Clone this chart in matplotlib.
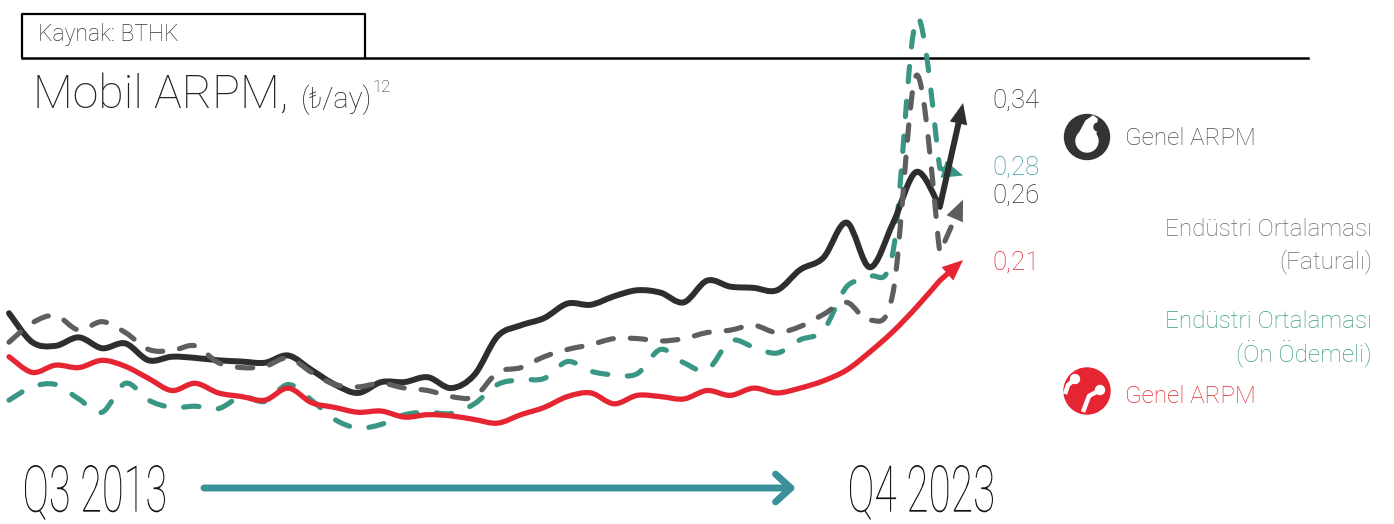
import numpy as np
import matplotlib
matplotlib.use("Agg")
import matplotlib.pyplot as plt
from matplotlib.patches import Circle, PathPatch, Polygon
from matplotlib.path import Path
from matplotlib.textpath import TextPath
from matplotlib.font_manager import FontProperties
from matplotlib.transforms import Affine2D

plt.rcParams['font.family'] = ['Roboto', 'DejaVu Sans']
plt.rcParams['font.weight'] = 'light'

# quarterly series, Q3 2013 .. Q4 2023 (TL / minute)
quarters = np.arange(42)
vodafone = [0.166, 0.142, 0.139, 0.146, 0.137, 0.141, 0.127, 0.130, 0.129, 0.127,
            0.126, 0.125, 0.131, 0.119, 0.107, 0.100, 0.109, 0.109, 0.113, 0.104,
            0.115, 0.147, 0.156, 0.162, 0.174, 0.173, 0.180, 0.185, 0.183, 0.175,
            0.193, 0.188, 0.187, 0.185, 0.202, 0.212, 0.241, 0.204, 0.241, 0.283,
            0.254, 0.340]
turkcell = [0.130, 0.117, 0.123, 0.121, 0.127, 0.122, 0.112, 0.102, 0.108, 0.100,
            0.097, 0.094, 0.104, 0.092, 0.088, 0.084, 0.085, 0.080, 0.082, 0.081,
            0.078, 0.075, 0.082, 0.088, 0.097, 0.100, 0.091, 0.098, 0.097, 0.095,
            0.102, 0.098, 0.104, 0.100, 0.104, 0.110, 0.119, 0.134, 0.151, 0.171,
            0.193, 0.210]
postpaid = [0.142, 0.158, 0.164, 0.152, 0.159, 0.150, 0.136, 0.135, 0.139, 0.125,
            0.121, 0.122, 0.129, 0.117, 0.107, 0.105, 0.108, 0.104, 0.102, 0.097,
            0.097, 0.117, 0.121, 0.130, 0.136, 0.140, 0.145, 0.145, 0.143, 0.145,
            0.150, 0.152, 0.156, 0.150, 0.155, 0.165, 0.175, 0.160, 0.184, 0.363,
            0.216, 0.260]
prepaid = [0.094, 0.105, 0.107, 0.095, 0.084, 0.108, 0.094, 0.088, 0.089, 0.087,
           0.097, 0.093, 0.107, 0.094, 0.078, 0.071, 0.074, 0.082, 0.084, 0.083,
           0.091, 0.107, 0.111, 0.112, 0.126, 0.118, 0.115, 0.116, 0.136, 0.125,
           0.119, 0.143, 0.138, 0.133, 0.144, 0.152, 0.188, 0.196, 0.218, 0.410,
           0.286, 0.280]
end_labels = ['0,34', '0,28', '0,26', '0,21']
start_label = 'Q3 2013'
end_label = 'Q4 2023'

C_BLACK = '#2e2e2e'
C_RED = '#e52531'
C_GREY = '#5e5e60'
C_TEAL = '#3a9684'
C_TEAL_TXT = '#3a97a3'

fig = plt.figure(figsize=(13.94, 5.24), dpi=100)
renderer = fig.canvas.get_renderer()

# decoration layer in pixel coordinates
lay = fig.add_axes([0, 0, 1, 1])
lay.set_xlim(0, 1394)
lay.set_ylim(524, 0)
lay.axis('off')

# chart layer in data coordinates
ax = fig.add_axes([0, 0, 1, 1])
ax.set_xlim(-0.387, 59.52)
ax.set_ylim(-0.0085, 0.4253)
ax.axis('off')
ax.patch.set_alpha(0)

# source box + rule
lay.plot([22, 22, 365, 365], [57, 14, 14, 57], color='black', lw=1.6, zorder=1)
lay.plot([22, 1308], [57.5, 57.5], color='black', lw=1.8, zorder=1)
lay.text(38, 34, 'Kaynak: BTHK', fontsize=16.5, color='#333333', va='center')

# title, pieces placed one after another
t1 = lay.text(33, 108, 'Mobil ARPM,', fontsize=33.5, color='#222222', va='baseline')
x_next = t1.get_window_extent(renderer).x1 + 12
t2 = fig.text(x_next / 1394, 1 - 108 / 524, '(₺/ay)', fontsize=21, color='#222222',
              va='baseline')
x_next = t2.get_window_extent(renderer).x1 + 1
fig.text(x_next / 1394, 1 - 92 / 524, '12', fontsize=12, color='#222222', va='baseline')


def smooth_path(x, y):
    # Catmull-Rom through the points, drawn as cubic Bezier pieces
    pts = np.column_stack([x, y])
    n = len(pts)
    verts = [pts[0]]
    codes = [Path.MOVETO]
    for i in range(n - 1):
        p_prev = pts[max(i - 1, 0)]
        p0 = pts[i]
        p1 = pts[i + 1]
        p_next = pts[min(i + 2, n - 1)]
        verts += [p0 + (p1 - p_prev) / 6, p1 - (p_next - p0) / 6, p1]
        codes += [Path.CURVE4] * 3
    return verts, codes


def draw_series(vals, color, lw, dashes, z):
    x = np.asarray(quarters, dtype=float)
    y = np.asarray(vals, dtype=float)
    tr = ax.transData
    p0 = tr.transform((x[-2], y[-2]))
    p1 = tr.transform((x[-1], y[-1]))
    d = p1 - p0
    stop = tr.inverted().transform(p1 - d / np.hypot(*d) * 14)
    verts, codes = smooth_path(x[:-1], y[:-1])
    verts.append(stop)
    codes.append(Path.LINETO)
    ls = (0, dashes) if dashes else '-'
    patch = PathPatch(Path(verts, codes), fill=False, edgecolor=color, lw=lw,
                      linestyle=ls, capstyle='round', joinstyle='round', zorder=z)
    ax.add_patch(patch)
    ax.annotate('', xy=(x[-1], y[-1]), xytext=stop,
                arrowprops=dict(arrowstyle='-|>,head_length=0.75,head_width=0.32',
                                lw=0, color=color, shrinkA=0, shrinkB=0,
                                mutation_scale=20), zorder=z)


draw_series(prepaid, C_TEAL, 3.7, (3.0, 3.8), 3)
draw_series(turkcell, C_RED, 3.8, None, 4)
draw_series(vodafone, C_BLACK, 4.3, None, 5)
draw_series(postpaid, C_GREY, 3.7, (3.0, 3.3), 6)

# end values
label_colors = [C_BLACK, C_TEAL_TXT, C_BLACK, C_RED]
label_vals = [vodafone[-1], prepaid[-1], postpaid[-1], turkcell[-1]]
label_nudge = [2, 8, 4, -3]
for txt, v, c, n in zip(end_labels, label_vals, label_colors, label_nudge):
    ax.annotate(txt, xy=(quarters[-1], v), xytext=(29, n), textcoords='offset pixels',
                fontsize=18.5, color=c, va='center', ha='left')

# legend: vodafone
lay.add_patch(Circle((1087, 137), 22.5, color='#333333', zorder=5))
lay.add_patch(Circle((1087, 141), 11, color='white', zorder=6))
lay.add_patch(Polygon([(1079, 134), (1086, 121), (1093, 116), (1097, 119),
                       (1096, 133)], closed=True, color='white', zorder=6))
lay.add_patch(Circle((1098, 127), 4, color='#333333', zorder=7))
lay.text(1125, 138, 'Genel ARPM', fontsize=17.5, color='#4a4b55', va='center')

lay.text(1372, 229, 'Endüstri Ortalaması', fontsize=17.5, color='#6a6a6a',
         va='center', ha='right')
lay.text(1372, 262, '(Faturalı)', fontsize=17.5, color='#6a6a6a', va='center', ha='right')
lay.text(1372, 322, 'Endüstri Ortalaması', fontsize=17.5, color='#3a9a84',
         va='center', ha='right')
lay.text(1372, 354, '(Ön Ödemeli)', fontsize=17.5, color='#3a9a84', va='center', ha='right')

# legend: turkcell
lay.add_patch(Circle((1087, 391), 23, color='#e52531', zorder=5))
lay.plot([1065, 1068, 1075], [394, 385, 379], color='white', lw=3.2, zorder=6,
         solid_capstyle='butt')
lay.plot([1100, 1089, 1083], [390, 396, 412], color='white', lw=3.2, zorder=6,
         solid_capstyle='butt')
lay.add_patch(Circle((1075, 379), 4.5, color='white', zorder=7))
lay.add_patch(Circle((1100, 390), 4.5, color='white', zorder=7))
lay.text(1125, 396, 'Genel ARPM', fontsize=17.5, color='#e52531', va='center')


def condensed(txt, x0, x1, y0, y1):
    fp = FontProperties(family='Roboto', weight='light')
    path = TextPath((0, 0), txt, size=1, prop=fp)
    ext = path.get_extents()
    t = (Affine2D().translate(-ext.x0, -ext.y0)
         .scale((x1 - x0) / ext.width, -(y1 - y0) / ext.height)
         .translate(x0, y1))
    lay.add_patch(PathPatch(path, transform=t + lay.transData, color='#111111', lw=0))


condensed(start_label, 25, 165, 465, 520)
condensed(end_label, 850, 993, 465, 520)

lay.annotate('', xy=(796, 488), xytext=(204, 488),
             arrowprops=dict(arrowstyle='->,head_length=0.55,head_width=0.5',
                             lw=5, color='#3a919b', capstyle='round',
                             joinstyle='round', shrinkA=0, shrinkB=0,
                             mutation_scale=20))

fig.savefig('out.png', dpi=100)
